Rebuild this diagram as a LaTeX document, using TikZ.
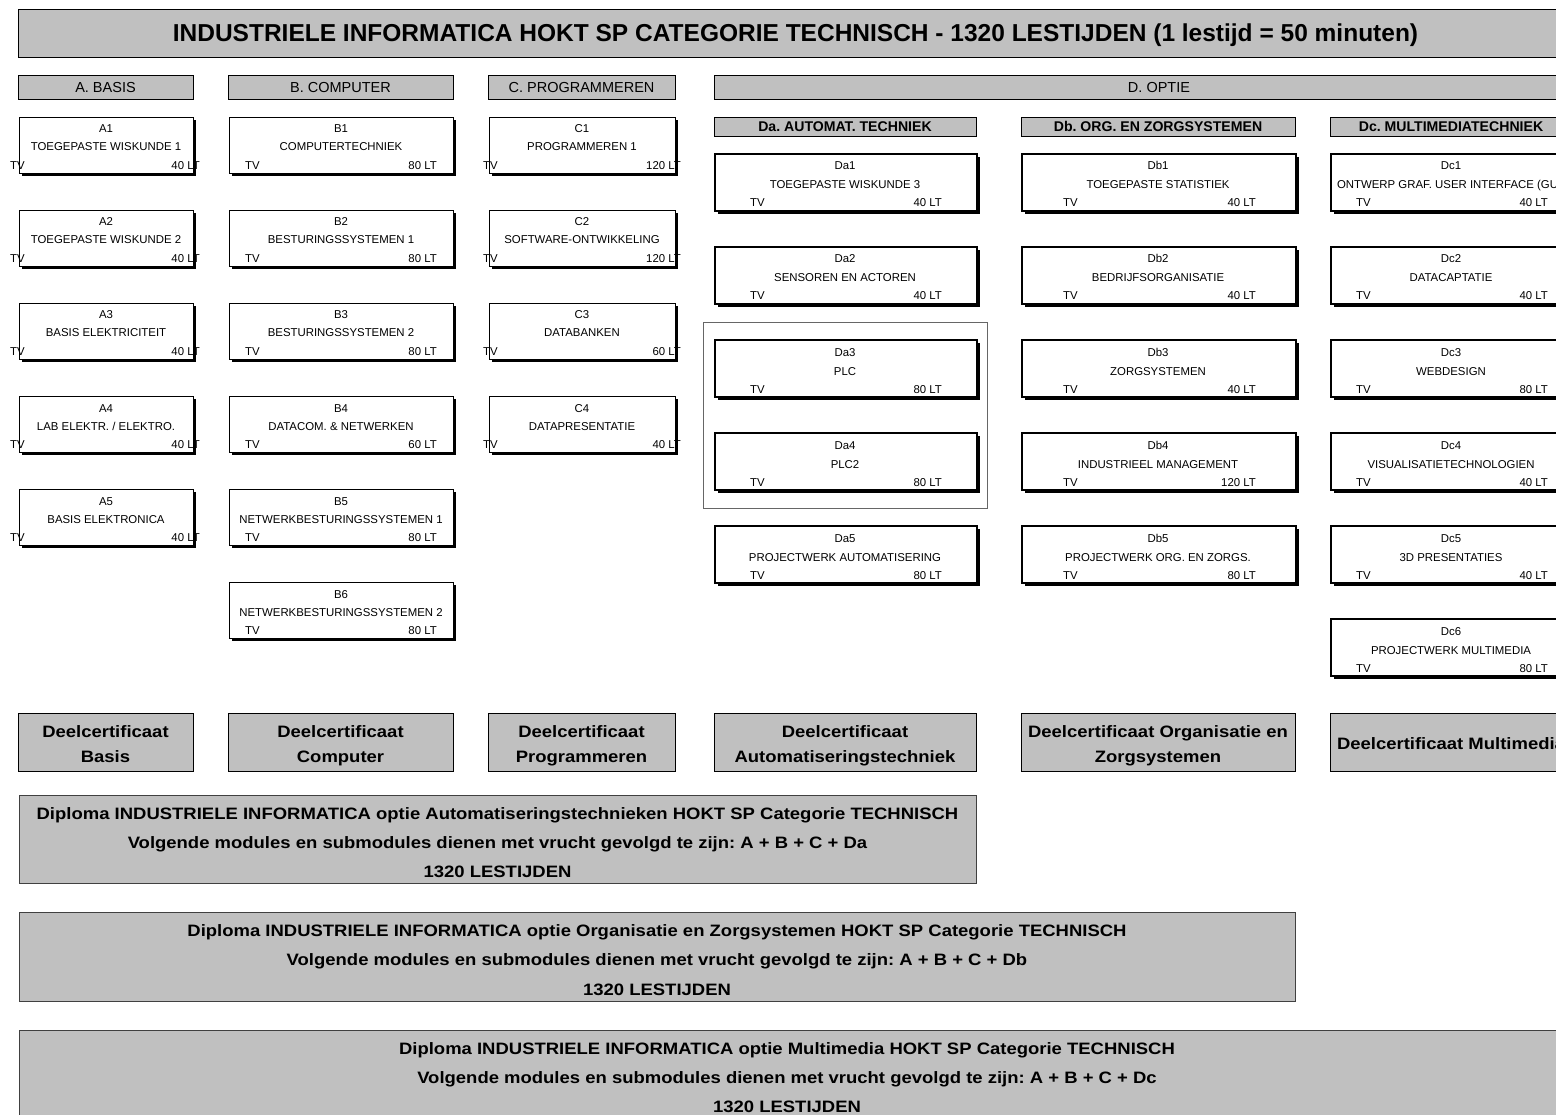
\documentclass[tikz,border=0pt]{standalone}
\usepackage{fontspec}
\setmainfont{Liberation Sans}
\newfontfamily\widefam[FakeStretch=1.12]{Liberation Sans}
\frenchspacing
\definecolor{hdrgray}{RGB}{192,192,192}
\newcommand\myfmod{\fontsize{11.4}{13}\selectfont}
\newcommand\myfhdr{\fontsize{14.5}{17}\selectfont}
\newcommand\myfsub{\fontsize{14.1}{17}\selectfont\bfseries}
\newcommand\myfcert{\widefam\fontsize{16.5}{20}\selectfont\bfseries}
\newcommand\myftitle{\fontsize{24.5}{28}\selectfont\bfseries}
\tikzset{
  hdrbox/.style={draw=black, line width=1.3pt, fill=hdrgray, inner sep=0pt},
  certbox/.style={draw=black, line width=1.2pt, fill=hdrgray, inner sep=0pt},
  diplbox/.style={draw=black!75, line width=0.9pt, fill=hdrgray, inner sep=0pt},
  abcbox/.style={draw=black, line width=0.9pt, fill=white, inner sep=0pt},
  dbox/.style={draw=black, line width=1.9pt, fill=white, inner sep=0pt},
  framebox/.style={draw=black!60, line width=0.8pt, inner sep=0pt},
  modtxt/.style={font=\myfmod, inner sep=0pt},
  hdrtxt/.style={font=\myfhdr, inner sep=0pt},
  subtxt/.style={font=\myfsub, inner sep=0pt},
  certtxt/.style={font=\myfcert, inner sep=0pt},
  titletxt/.style={font=\myftitle, inner sep=0pt},
}
% header box: name, x1, y1, x2, y2, text style, baseline, text
\newcommand\myhdr[8]{%
  \node[hdrbox, anchor=north west, minimum width={#4-#2}, minimum height={#5-#3}] (#1) at (#2,#3) {};
  \node[#6, anchor=base] (#1-t) at ({(#2+#4)/2},#7) {#8};
}
% module: name, top, code, title, hours
\newcommand\mymod[5]{%
  \fill[black] (\mxa+\sh,#2+\sh) rectangle (\mxb+\sh,#2+\mh+\sh);
  \node[\mst, anchor=north west, minimum width={\mxb-\mxa}, minimum height={\mh}] (#1) at (\mxa,#2) {};
  \node[modtxt, anchor=base] (#1-code) at ({(\mxa+\mxb)/2},#2+\oa) {#3};
  \node[modtxt, anchor=base] (#1-title) at ({(\mxa+\mxb)/2},#2+\ob) {#4};
  \node[modtxt, anchor=base west] (#1-tv) at (\tvx,#2+\oc) {TV};
  \node[modtxt, anchor=base east] (#1-lt) at (\ltx,#2+\oc) {#5};
}
\newcommand\abcparams{\def\mst{abcbox}\def\mh{56}\def\oa{16}\def\ob{34}\def\oc{52.5}\def\sh{3}}
\newcommand\dparams{\def\mst{dbox}\def\mh{57}\def\oa{17}\def\ob{36}\def\oc{54}\def\sh{4}}
\begin{document}
\begin{tikzpicture}[x=1pt,y=-1pt]
\useasboundingbox (0,0) rectangle (1556,1115);
\clip (0,0) rectangle (1556,1115);

% title
\myhdr{title}{18}{9}{1573}{57}{titletxt}{42}{INDUSTRIELE INFORMATICA HOKT SP CATEGORIE TECHNISCH - 1320 LESTIJDEN (1 lestijd = 50 minuten)}

% main headers
\myhdr{hA}{18}{75}{193}{99}{hdrtxt}{92.5}{A. BASIS}
\myhdr{hB}{228}{75}{453}{99}{hdrtxt}{92.5}{B. COMPUTER}
\myhdr{hC}{488}{75}{675}{99}{hdrtxt}{92.5}{C. PROGRAMMEREN}
\myhdr{hD}{714}{75}{1604}{99}{hdrtxt}{92.5}{D. OPTIE}

% sub headers
\myhdr{hDa}{714}{117}{976}{136}{subtxt}{131.5}{Da. AUTOMAT. TECHNIEK}
\myhdr{hDb}{1021}{117}{1295}{136}{subtxt}{131.5}{Db. ORG. EN ZORGSYSTEMEN}
\myhdr{hDc}{1330}{117}{1572}{136}{subtxt}{131.5}{Dc. MULTIMEDIATECHNIEK}

% column A
\abcparams\def\mxa{19}\def\mxb{193}\def\tvx{10}\def\ltx{200}
\mymod{A1}{117}{A1}{TOEGEPASTE WISKUNDE 1}{40 LT}
\mymod{A2}{210}{A2}{TOEGEPASTE WISKUNDE 2}{40 LT}
\mymod{A3}{303}{A3}{BASIS ELEKTRICITEIT}{40 LT}
\mymod{A4}{396}{A4}{LAB ELEKTR. / ELEKTRO.}{40 LT}
\mymod{A5}{489}{A5}{BASIS ELEKTRONICA}{40 LT}

% column B
\abcparams\def\mxa{229}\def\mxb{453}\def\tvx{245}\def\ltx{437}
\mymod{B1}{117}{B1}{COMPUTERTECHNIEK}{80 LT}
\mymod{B2}{210}{B2}{BESTURINGSSYSTEMEN 1}{80 LT}
\mymod{B3}{303}{B3}{BESTURINGSSYSTEMEN 2}{80 LT}
\mymod{B4}{396}{B4}{DATACOM. \& NETWERKEN}{60 LT}
\mymod{B5}{489}{B5}{NETWERKBESTURINGSSYSTEMEN 1}{80 LT}
\mymod{B6}{582}{B6}{NETWERKBESTURINGSSYSTEMEN 2}{80 LT}

% column C
\abcparams\def\mxa{489}\def\mxb{675}\def\tvx{483}\def\ltx{681}
\mymod{C1}{117}{C1}{PROGRAMMEREN 1}{120 LT}
\mymod{C2}{210}{C2}{SOFTWARE-ONTWIKKELING}{120 LT}
\mymod{C3}{303}{C3}{DATABANKEN}{60 LT}
\mymod{C4}{396}{C4}{DATAPRESENTATIE}{40 LT}

% frame around Da3/Da4
\node[framebox, anchor=north west, minimum width=284, minimum height=186] (frameDa) at (703,322) {};

% column Da
\dparams\def\mxa{714}\def\mxb{976}\def\tvx{750}\def\ltx{942}
\mymod{Da1}{153}{Da1}{TOEGEPASTE WISKUNDE 3}{40 LT}
\mymod{Da2}{246}{Da2}{SENSOREN EN ACTOREN}{40 LT}
\mymod{Da3}{339}{Da3}{PLC}{80 LT}
\mymod{Da4}{432}{Da4}{PLC2}{80 LT}
\mymod{Da5}{525}{Da5}{PROJECTWERK AUTOMATISERING}{80 LT}

% column Db
\dparams\def\mxa{1021}\def\mxb{1295}\def\tvx{1063}\def\ltx{1256}
\mymod{Db1}{153}{Db1}{TOEGEPASTE STATISTIEK}{40 LT}
\mymod{Db2}{246}{Db2}{BEDRIJFSORGANISATIE}{40 LT}
\mymod{Db3}{339}{Db3}{ZORGSYSTEMEN}{40 LT}
\mymod{Db4}{432}{Db4}{INDUSTRIEEL MANAGEMENT}{120 LT}
\mymod{Db5}{525}{Db5}{PROJECTWERK ORG. EN ZORGS.}{80 LT}

% column Dc
\dparams\def\mxa{1330}\def\mxb{1572}\def\tvx{1356}\def\ltx{1548}
\mymod{Dc1}{153}{Dc1}{ONTWERP GRAF. USER INTERFACE (GUI)}{40 LT}
\mymod{Dc2}{246}{Dc2}{DATACAPTATIE}{40 LT}
\mymod{Dc3}{339}{Dc3}{WEBDESIGN}{80 LT}
\mymod{Dc4}{432}{Dc4}{VISUALISATIETECHNOLOGIEN}{40 LT}
\mymod{Dc5}{525}{Dc5}{3D PRESENTATIES}{40 LT}
\mymod{Dc6}{618}{Dc6}{PROJECTWERK MULTIMEDIA}{80 LT}

% certificates
\node[certbox, anchor=north west, minimum width=175, minimum height=58] (certA) at (18,713) {};
\node[certtxt, anchor=base] (certA-1) at (105.5,737) {Deelcertificaat};
\node[certtxt, anchor=base] (certA-2) at (105.5,762) {Basis};
\node[certbox, anchor=north west, minimum width=225, minimum height=58] (certB) at (228,713) {};
\node[certtxt, anchor=base] (certB-1) at (340.5,737) {Deelcertificaat};
\node[certtxt, anchor=base] (certB-2) at (340.5,762) {Computer};
\node[certbox, anchor=north west, minimum width=187, minimum height=58] (certC) at (488,713) {};
\node[certtxt, anchor=base] (certC-1) at (581.5,737) {Deelcertificaat};
\node[certtxt, anchor=base] (certC-2) at (581.5,762) {Programmeren};
\node[certbox, anchor=north west, minimum width=262, minimum height=58] (certDa) at (714,713) {};
\node[certtxt, anchor=base] (certDa-1) at (845,737) {Deelcertificaat};
\node[certtxt, anchor=base] (certDa-2) at (845,762) {Automatiseringstechniek};
\node[certbox, anchor=north west, minimum width=274, minimum height=58] (certDb) at (1021,713) {};
\node[certtxt, anchor=base] (certDb-1) at (1158,737) {Deelcertificaat Organisatie en};
\node[certtxt, anchor=base] (certDb-2) at (1158,762) {Zorgsystemen};
\node[certbox, anchor=north west, minimum width=242, minimum height=58] (certDc) at (1330,713) {};
\node[certtxt, anchor=base] (certDc-1) at (1451,749) {Deelcertificaat Multimedia};

% diplomas
\node[diplbox, anchor=north west, minimum width=957, minimum height=88] (dipA) at (19,795) {};
\node[certtxt, anchor=base] (dipA-1) at (497.5,819) {Diploma INDUSTRIELE INFORMATICA optie Automatiseringstechnieken HOKT SP Categorie TECHNISCH};
\node[certtxt, anchor=base] (dipA-2) at (497.5,848) {Volgende modules en submodules dienen met vrucht gevolgd te zijn: A + B + C + Da};
\node[certtxt, anchor=base] (dipA-3) at (497.5,877) {1320 LESTIJDEN};

\node[diplbox, anchor=north west, minimum width=1276, minimum height=89] (dipB) at (19,912) {};
\node[certtxt, anchor=base] (dipB-1) at (657,936) {Diploma INDUSTRIELE INFORMATICA optie Organisatie en Zorgsystemen HOKT SP Categorie TECHNISCH};
\node[certtxt, anchor=base] (dipB-2) at (657,965) {Volgende modules en submodules dienen met vrucht gevolgd te zijn: A + B + C + Db};
\node[certtxt, anchor=base] (dipB-3) at (657,995) {1320 LESTIJDEN};

\node[diplbox, anchor=north west, minimum width=1537, minimum height=100] (dipC) at (19,1030) {};
\node[certtxt, anchor=base] (dipC-1) at (787,1054) {Diploma INDUSTRIELE INFORMATICA optie Multimedia HOKT SP Categorie TECHNISCH};
\node[certtxt, anchor=base] (dipC-2) at (787,1083) {Volgende modules en submodules dienen met vrucht gevolgd te zijn: A + B + C + Dc};
\node[certtxt, anchor=base] (dipC-3) at (787,1112) {1320 LESTIJDEN};
\end{tikzpicture}
\end{document}
